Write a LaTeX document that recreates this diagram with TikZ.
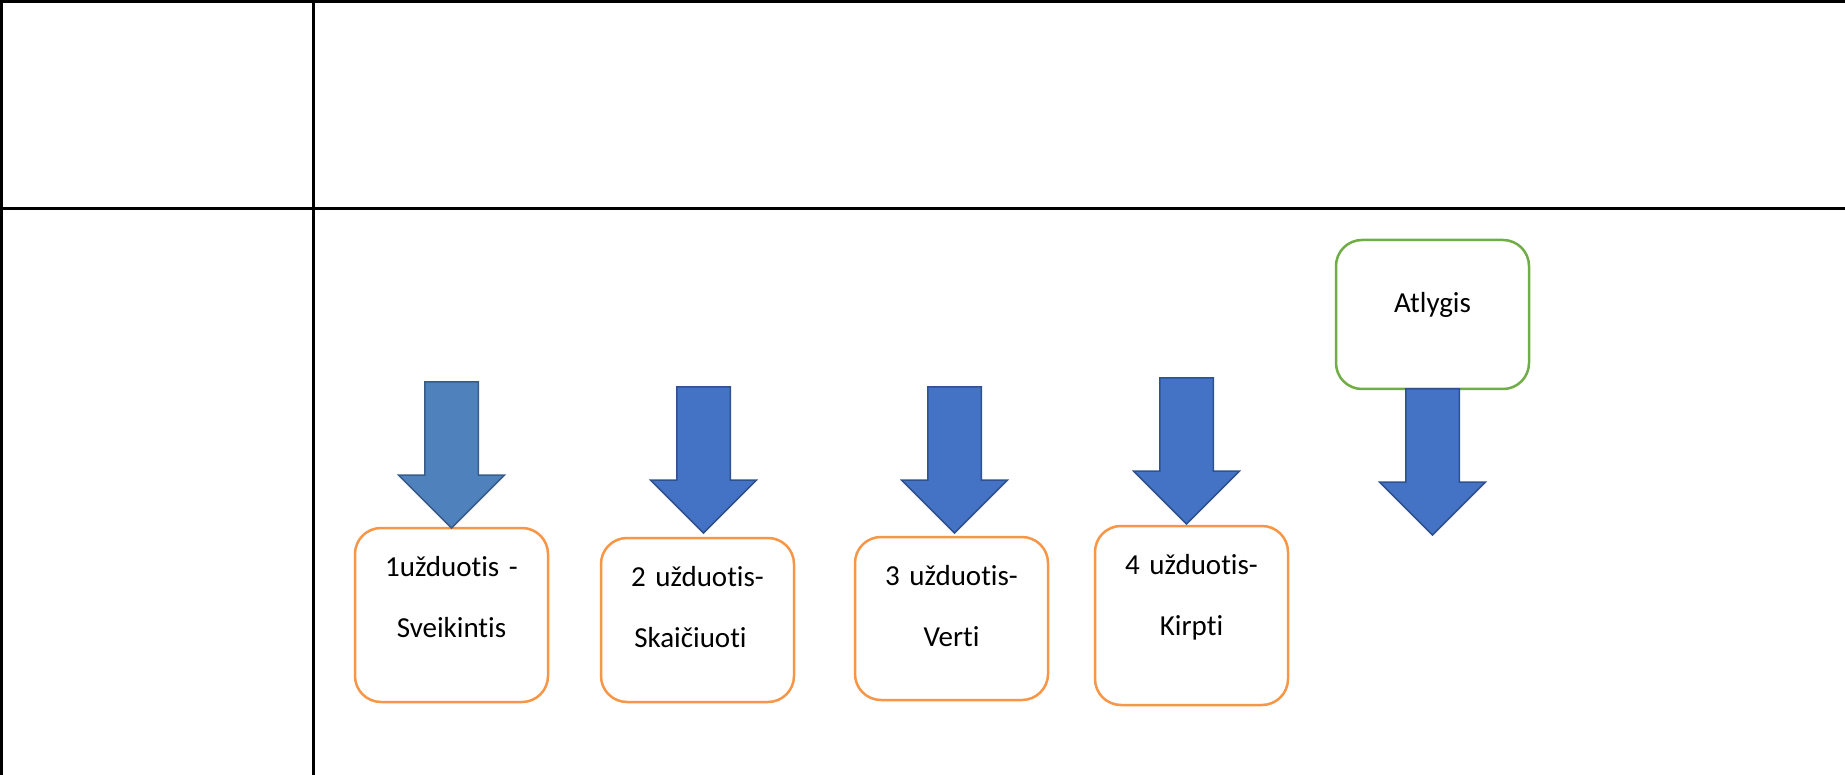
\documentclass[tikz,border=0pt]{standalone}
\usepackage{fontspec}
\setmainfont{Carlito}[Ligatures={NoCommon}]
\usepackage{xcolor}
\usetikzlibrary{positioning,shapes.arrows}
\definecolor{taskOrange}{HTML}{F79646}
\definecolor{rewardGreen}{HTML}{70AD47}
\definecolor{arrowBlue}{HTML}{4472C4}
\definecolor{arrowBlueEdge}{HTML}{2F528F}
\definecolor{arrowSteel}{HTML}{4F81BD}
\definecolor{arrowSteelEdge}{HTML}{385D8A}
\tikzstyle{tableLine} = [line width=3pt, black]
\tikzstyle{taskBox} = [draw=taskOrange, line width=2.5pt, rounded corners=26pt,
	inner sep=0pt, outer sep=0pt, text width=193pt, minimum width=193pt, align=center,
	font=\fontsize{29}{61}\selectfont, text height=48pt]
\tikzstyle{rewardBox} = [taskBox, draw=rewardGreen]
\tikzstyle{blockArrow} = [single arrow, rotate=-90, inner xsep=0pt, inner ysep=26pt,
	outer sep=0pt, minimum height=146pt, minimum width=104pt,
	single arrow head extend=26pt, single arrow tip angle=90,
	fill=arrowBlue, draw=arrowBlueEdge, line width=1.5pt]

\begin{document}
\begin{tikzpicture}[x=1pt,y=-1pt]
		\useasboundingbox (0,0) rectangle (1845,775);
		% table
		\draw[tableLine] (0,1.5) -- (1845,1.5);
		\draw[tableLine] (0,209) -- (1845,209);
		\draw[tableLine] (1.5,0) -- (1.5,775);
		\draw[tableLine] (313,0) -- (313,775);
		
		% nodes
		\node[taskBox, text depth=126pt] (u1) at (451.5,615) {1užduotis -\\Sveikintis};	% 1 uzduotis
		\node[taskBox, text depth=116pt, right=53pt of u1, yshift=-5pt] (u2) {2 užduotis-\\\mbox{Skaičiuoti\hspace{14pt}}};
		\node[taskBox, text depth=115pt, right=61pt of u2, yshift=1.5pt] (u3) {3 užduotis-\\Verti};
		\node[taskBox, text depth=131pt, right=47pt of u3, yshift=3pt] (u4) {4 užduotis-\\Kirpti};
		\node[rewardBox, text height=73pt, text depth=76pt, right=48pt of u4, yshift=301pt] (atl) {Atlygis};	% Atlygis oben
		
		% arrows
		\node[blockArrow, fill=arrowSteel, draw=arrowSteelEdge, anchor=tip] (a1) at (u1.north) {};
		\node[blockArrow, above right=5pt and 6pt of u2.north, anchor=tip] (a2) {};
		\node[blockArrow, above right=4pt and 3pt of u3.north, anchor=tip] (a3) {};
		\node[blockArrow, above left=2pt and 5pt of u4.north, anchor=tip] (a4) {};
		\node[blockArrow, anchor=tail] (a5) at (atl.south) {};	% unter Atlygis
\end{tikzpicture}
\end{document}
